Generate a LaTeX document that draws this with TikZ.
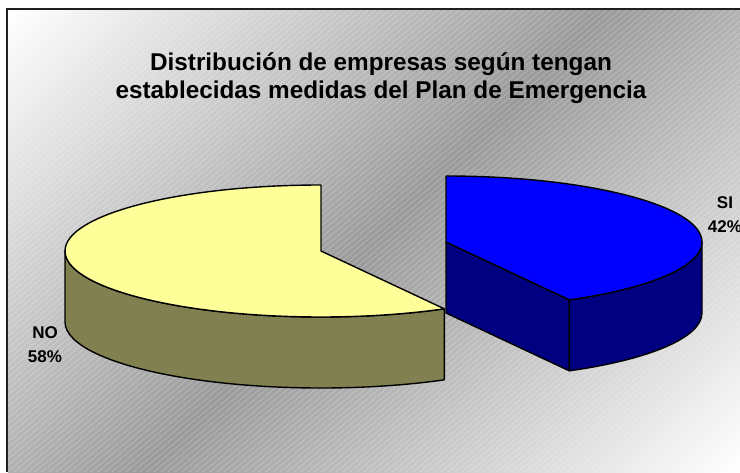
\documentclass[tikz,border=0pt]{standalone}
\usepackage{fontspec}
\setmainfont{Liberation Sans}
\usetikzlibrary{calc}
\definecolor{bggray}{RGB}{154,154,154}
\definecolor{notop}{RGB}{255,255,153}
\definecolor{noside}{RGB}{128,128,80}
\definecolor{sitop}{RGB}{0,0,255}
\definecolor{siside}{RGB}{0,0,128}
\pgfdeclareverticalshading{bgshade}{100bp}{color(0bp)=(white); color(14.64bp)=(white); color(50bp)=(bggray); color(85.36bp)=(white); color(100bp)=(white)}
\tikzset{
  pieline/.style={draw=black, line width=1.4pt, line join=round},
  titletext/.style={font=\fontsize{24.3}{28}\selectfont\bfseries, inner sep=0pt},
  lbl/.style={font=\fontsize{17}{24}\selectfont\bfseries, inner sep=0pt, align=center, anchor=north},
  stripe/.style={white, opacity=0.22, line width=0.9pt},
  frame/.style={draw=black!88, line width=2pt}
}
\begin{document}
\begin{tikzpicture}[x=1pt,y=1pt]
\useasboundingbox (0,0) rectangle (740,472);
\fill[white] (0,0) rectangle (740,472);
% background of chart area
\shade[shading=bgshade, shading angle=45] (8,0) rectangle (740,462);
\begin{scope}
  \clip (8,0) rectangle (740,462);
  \foreach \k in {0,...,186} \draw[stripe] ({-560+7*\k},0) -- ++(40:720);
\end{scope}
\draw[frame] (7,0) -- (7,463) -- (740,463);
% title
\node[titletext, anchor=base] (t1) at (381,401) {Distribución de empresas según tengan};
\node[titletext, anchor=base] (t2) at (381,373.5) {establecidas medidas del Plan de Emergencia};
% NO slice (58%)
\coordinate (c1) at (321,221);
\filldraw[pieline, fill=noside] (c1) ++(180:256 and 66)
  arc[start angle=180, end angle=298.8, x radius=256, y radius=66] -- ++(0,-71)
  arc[start angle=298.8, end angle=180, x radius=256, y radius=66] -- cycle;
\filldraw[pieline, fill=notop] (c1) -- ++(90:256 and 66)
  arc[start angle=90, end angle=298.8, x radius=256, y radius=66] -- cycle;
% SI slice (42%), exploded
\coordinate (c2) at (446,230);
\coordinate (p2) at ($(c2)+(298.8:256 and 66)$);
\filldraw[pieline, fill=siside] (c2) -- (p2) -- ($(p2)+(0,-71)$) -- ($(c2)+(0,-71)$) -- cycle;
\filldraw[pieline, fill=siside] (p2)
  arc[start angle=298.8, end angle=360, x radius=256, y radius=66] -- ++(0,-71)
  arc[start angle=360, end angle=298.8, x radius=256, y radius=66] -- cycle;
\filldraw[pieline, fill=sitop] (c2) -- ++(90:256 and 66)
  arc[start angle=90, end angle=-61.2, x radius=256, y radius=66] -- cycle;
% labels
\node[lbl] (no) at (45,145.3) {NO\\58\%};
\node[lbl] (si) at (725,275.3) {SI\\42\%};
\end{tikzpicture}
\end{document}
